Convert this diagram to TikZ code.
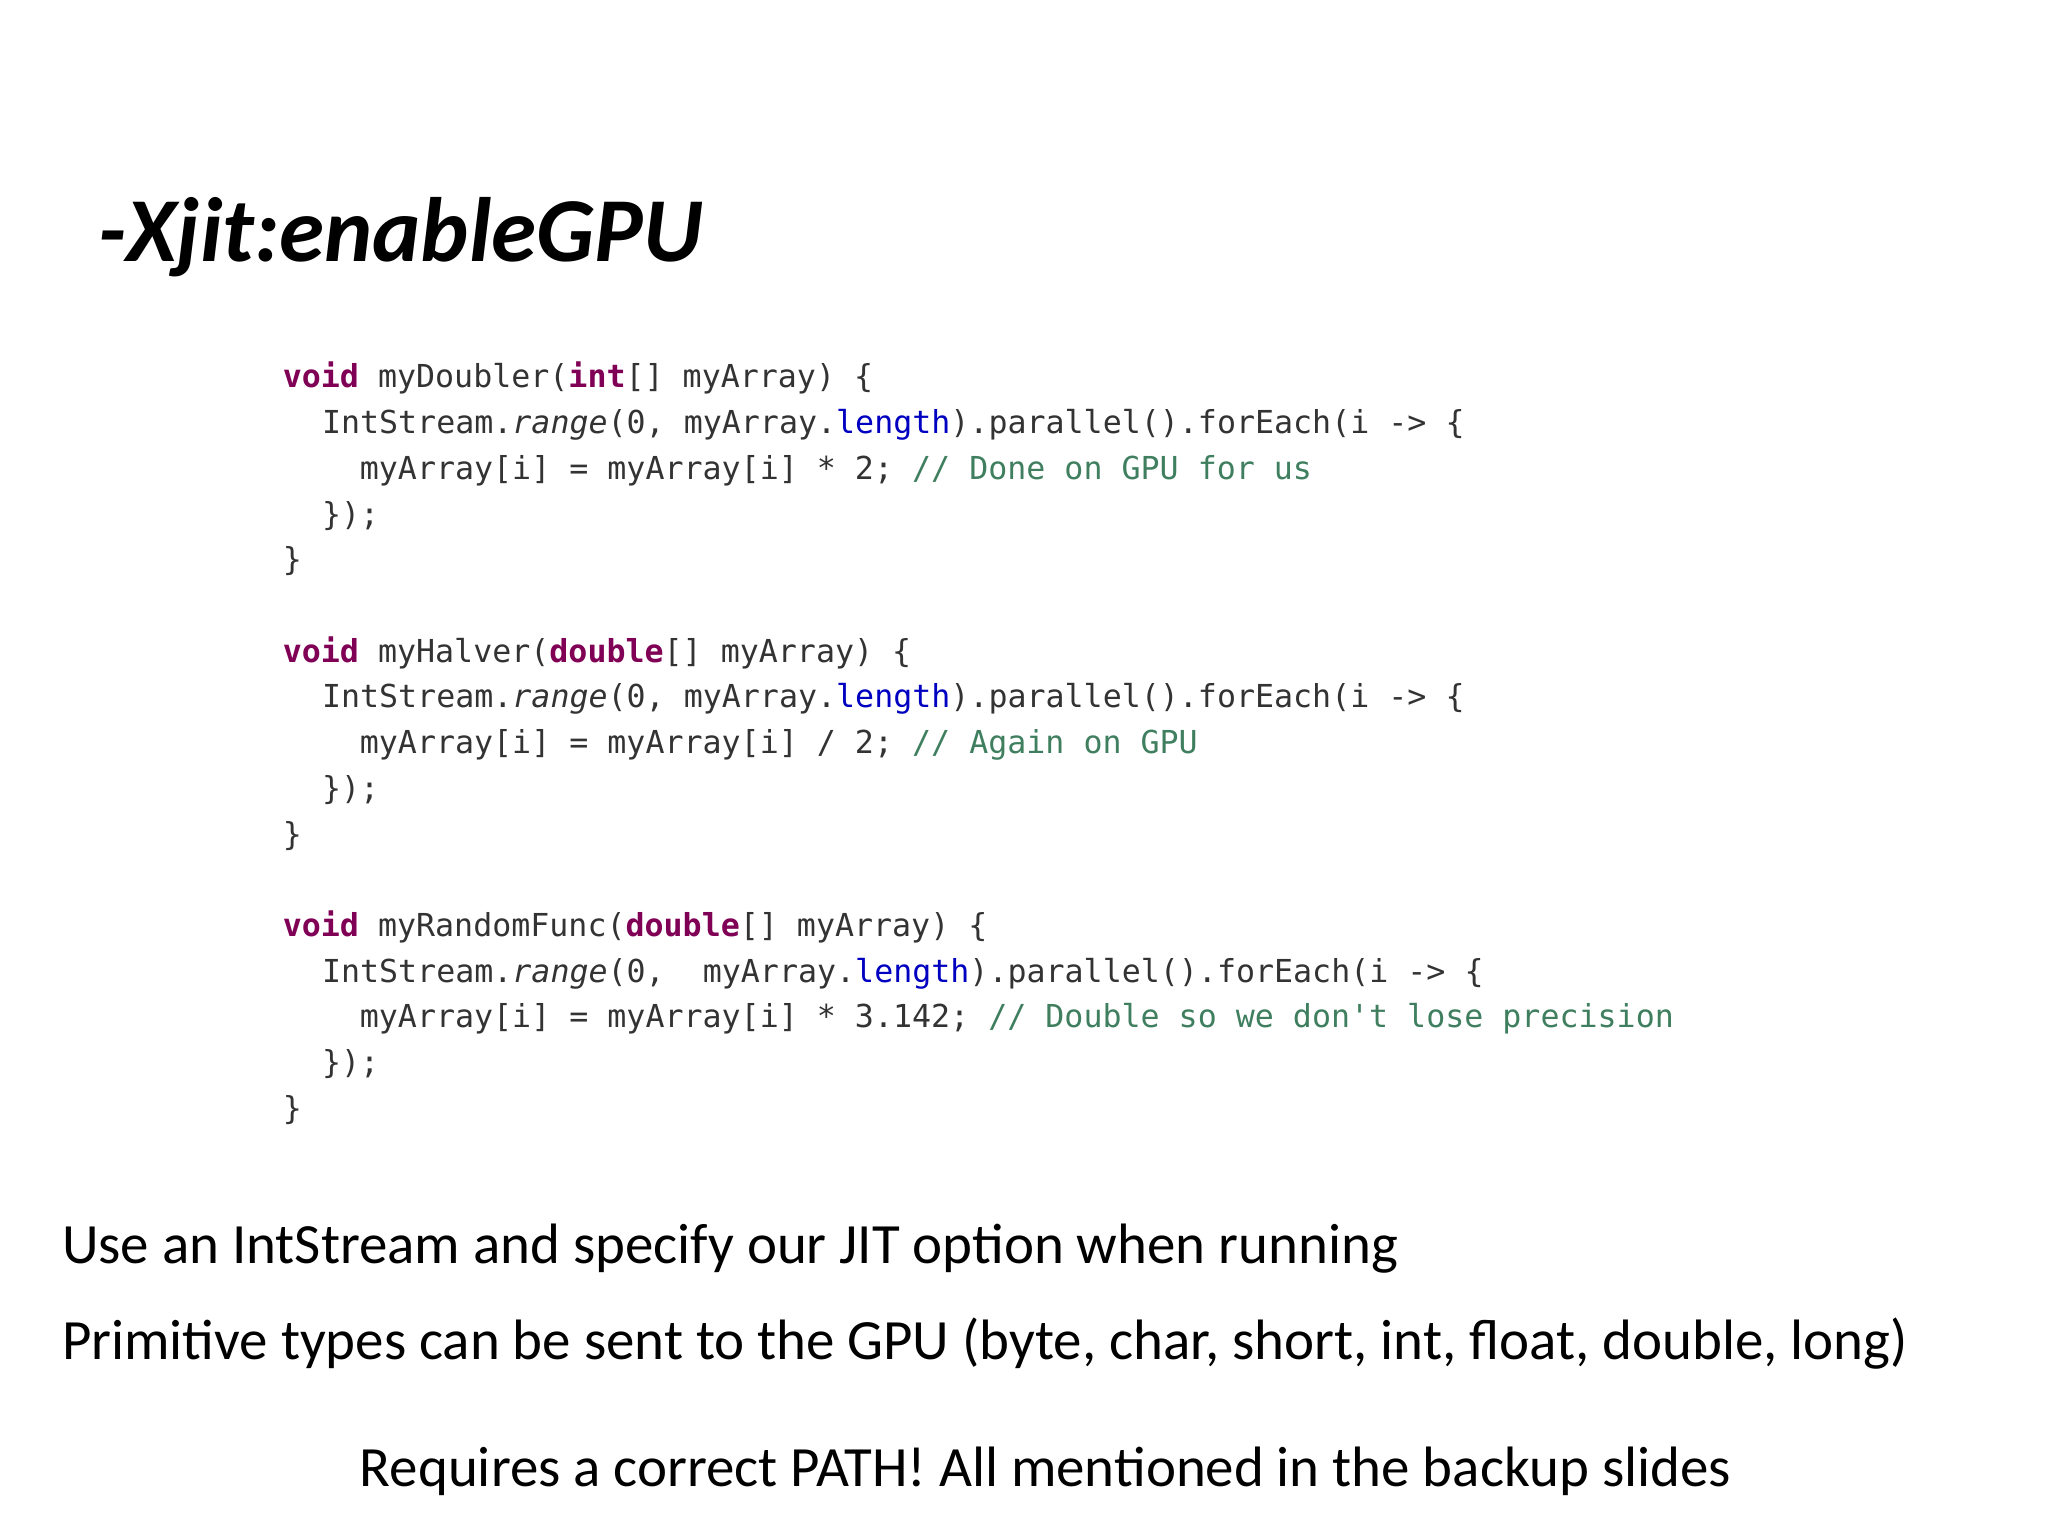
\documentclass[tikz,border=0pt]{standalone}
\usepackage{fontspec}
\setmainfont{Carlito}
\newfontfamily\code{DejaVu Sans Mono}
\definecolor{kw}{HTML}{7F0055}
\definecolor{fld}{HTML}{0000C0}
\definecolor{cm}{HTML}{3F7F5F}
\definecolor{tx}{HTML}{333333}
\newcommand{\K}[1]{\textcolor{kw}{\textbf{#1}}}
\newcommand{\F}[1]{\textcolor{fld}{#1}}
\newcommand{\C}[1]{\textcolor{cm}{#1}}
\begin{document}
\begin{tikzpicture}[x=0.013061cm,y=-0.013061cm,
  cl/.style={anchor=base west,inner sep=0pt,font=\code\fontsize{9.0}{11}\selectfont,text=tx},
  bt/.style={anchor=base west,inner sep=0pt,font=\fontsize{16.2}{20}\selectfont}]
\useasboundingbox (0,0) rectangle (1568,1176);
\node[anchor=base west,inner sep=0pt,font=\fontsize{26}{32}\selectfont\bfseries\itshape] (title) at (75,200) {-Xjit:enableGPU};
% block 1
\node[cl] (a1) at (216,297) {\K{void} myDoubler(\K{int}[] myArray) \{};
\node[cl] (a2) at (246,332) {IntStream.\textit{range}(0, myArray.\F{length}).parallel().forEach(i -> \{};
\node[cl] (a3) at (275,367) {myArray[i] = myArray[i] * 2; \C{// Done on GPU for us}};
\node[cl] (a4) at (246,402) {\});};
\node[cl] (a5) at (216,437) {\}};
% block 2
\node[cl] (b1) at (216,507) {\K{void} myHalver(\K{double}[] myArray) \{};
\node[cl] (b2) at (246,542) {IntStream.\textit{range}(0, myArray.\F{length}).parallel().forEach(i -> \{};
\node[cl] (b3) at (275,577) {myArray[i] = myArray[i] / 2; \C{// Again on GPU}};
\node[cl] (b4) at (246,612) {\});};
\node[cl] (b5) at (216,647) {\}};
% block 3
\node[cl] (c1) at (216,717) {\K{void} myRandomFunc(\K{double}[] myArray) \{};
\node[cl] (c2) at (246,752) {IntStream.\textit{range}(0,\ \ myArray.\F{length}).parallel().forEach(i -> \{};
\node[cl] (c3) at (275,787) {myArray[i] = myArray[i] * 3.142; \C{// Double so we don't lose precision}};
\node[cl] (c4) at (246,822) {\});};
\node[cl] (c5) at (216,857) {\}};
% body text
\node[bt] (t1) at (47,967) {Use an IntStream and specify our JIT option when running};
\node[bt] (t2) at (47,1041) {Primitive types can be sent to the GPU (byte, char, short, int, float, double, long)};
\node[bt] (t3) at (275,1138) {Requires a correct PATH! All mentioned in the backup slides};
\end{tikzpicture}
\end{document}
